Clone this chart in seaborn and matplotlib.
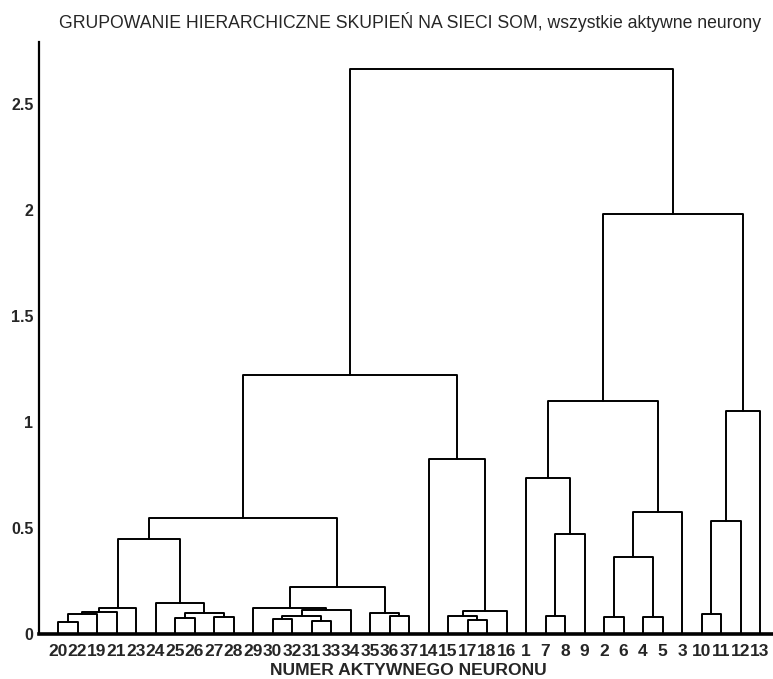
import matplotlib
matplotlib.use("Agg")
import matplotlib.pyplot as plt
import seaborn as sns
import pandas as pd
import numpy as np

# ---- data ----
leaf_labels = ["20", "22", "19", "21", "23", "24", "25", "26", "27", "28",
               "29", "30", "32", "31", "33", "34", "35", "36", "37",
               "14", "15", "17", "18", "16",
               "1", "7", "8", "9", "2", "6", "4", "5", "3",
               "10", "11", "12", "13"]

# merges: left child, right child (leaf label or "cK" = merge K), height
merge_left = ["20", "c0", "c1", "c2", "25", "27", "c4", "24", "c3",
              "30", "31", "c9", "c11", "29", "36", "35", "c13", "c8",
              "17", "15", "c19", "14", "c17",
              "7", "c23", "1", "2", "4", "c26", "c28", "c25",
              "10", "c31", "c32", "c30", "c22"]
merge_right = ["22", "19", "21", "23", "26", "28", "c5", "c6", "c7",
               "32", "33", "c10", "34", "c12", "37", "c14", "c15", "c16",
               "18", "c18", "16", "c20", "c21",
               "8", "9", "c24", "6", "5", "c27", "3", "c29",
               "11", "12", "13", "c33", "c34"]
merge_height = [0.055, 0.092, 0.102, 0.125, 0.075, 0.078, 0.100, 0.145, 0.45,
                0.071, 0.062, 0.083, 0.113, 0.122, 0.085, 0.100, 0.22, 0.545,
                0.066, 0.087, 0.11, 0.825, 1.22,
                0.085, 0.47, 0.735, 0.08, 0.08, 0.365, 0.575, 1.10,
                0.095, 0.535, 1.05, 1.98, 2.665]

title = "GRUPOWANIE HIERARCHICZNE SKUPIEŃ NA SIECI SOM, wszystkie aktywne neurony"
xlabel = "NUMER AKTYWNEGO NEURONU"
yticks = [0, 0.5, 1, 1.5, 2, 2.5]
ytick_labels = ["0", "0.5", "1", "1.5", "2", "2.5"]

# ---- build dendrogram segments from the data ----
pos = {lab: i + 1 for i, lab in enumerate(leaf_labels)}
hgt = {lab: 0.0 for lab in leaf_labels}
rows = []
for k, (a, b, h) in enumerate(zip(merge_left, merge_right, merge_height)):
    xa, xb = pos[a], pos[b]
    pts = [(xa, hgt[a]), (xa, h), (xb, h), (xb, hgt[b])]
    for j, (x, y) in enumerate(pts):
        rows.append({"link": k, "order": j, "x": x, "y": y})
    pos[f"c{k}"] = (xa + xb) / 2.0
    hgt[f"c{k}"] = h
df = pd.DataFrame(rows)

# ---- plot ----
sns.set_style("white")
plt.rcParams["font.family"] = ["Liberation Sans", "DejaVu Sans"]

W, H = 773, 679
fig = plt.figure(figsize=(W / 100, H / 100), dpi=100)
ax = fig.add_axes([39 / W, 45 / H, (W - 39) / W, (634 - 42) / H])

sns.lineplot(data=df, x="x", y="y", units="link", estimator=None, sort=False,
             color="black", linewidth=1.4, legend=False, ax=ax)

ax.set_xlim(1 - 19 / 19.5, 1 + (W - 58) / 19.5)
ax.set_ylim(0, (634 - 42) / 212)

ax.set_xticks(range(1, len(leaf_labels) + 1))
ax.set_xticklabels(leaf_labels, fontsize=12.5, fontweight="bold")
ax.set_yticks(yticks)
ax.set_yticklabels(ytick_labels, fontsize=11.5, fontweight="bold")
ax.tick_params(axis="x", length=0, pad=7)
ax.tick_params(axis="y", direction="in", length=5, width=1.3, pad=4)

for s in ["top", "right"]:
    ax.spines[s].set_visible(False)
ax.spines["left"].set_linewidth(1.6)
ax.spines["bottom"].set_linewidth(2.6)
ax.spines["left"].set_color("black")
ax.spines["bottom"].set_color("black")

ax.set_xlabel(xlabel, fontsize=12.6, fontweight="bold", labelpad=3)
ax.xaxis.label.set_position((((408 - 39) / (W - 39)), 0))
ax.set_ylabel("")
fig.text(410 / W, 1 - 22 / H, title, ha="center", va="center", fontsize=12.7)

fig.savefig("out.png", dpi=100)
